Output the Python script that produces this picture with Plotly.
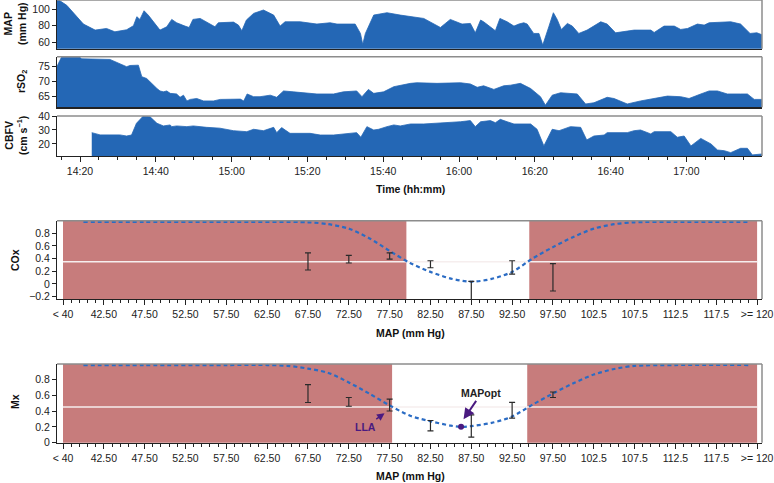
import plotly.graph_objects as go
import pandas as pd

# ---------------- time-series data (minutes after 14:00) ----------------
map_t = [13.9, 16.5, 20.9, 24.0, 27.0, 29.2, 32.3, 34.1, 35.0, 35.8, 36.9, 38.0, 41.1, 42.9, 44.2, 45.5,
         47.7, 48.8, 49.8, 51.7, 55.6, 56.5, 60.5, 61.8, 62.7, 63.9, 65.8, 68.4, 71.1, 72.8, 74.1, 78.1,
         82.5, 86.0, 87.8, 92.6, 94.0, 94.6, 95.3, 97.5, 101.0, 104.5, 110.7, 115.1, 117.7, 120.8, 123.0,
         124.3, 125.7, 126.5, 129.6, 130.8, 132.7, 134.5, 135.8, 137.1, 138.0, 139.7, 141.1, 142.1, 143.7,
         144.9, 145.9, 147.0, 148.6, 149.9, 151.6, 153.8, 157.4, 159.1, 161.3, 166.2, 170.6, 171.5, 174.1,
         176.8, 178.5, 180.3, 182.9, 184.7, 186.0, 191.7, 194.3, 196.8, 198.6, 200.2]
map_v = [113, 105, 82, 74.6, 76.6, 72.5, 75, 80, 91, 87.7, 98.3, 93, 74.6, 78.7, 87.7, 83.6,
         79.5, 77.8, 87.7, 88.9, 78.7, 83.6, 84.4, 80.7, 73.8, 86.9, 95.1, 99.2, 93.0, 79.5, 84.8, 84.8,
         82.0, 83.6, 82.0, 82.0, 70.5, 57.0, 70.5, 93.0, 95.9, 93.0, 88.9, 77.8, 87.7, 82.0, 82.8,
         71.3, 86.9, 84.8, 73.8, 88.9, 84.8, 79.5, 82.0, 83.6, 82.0, 70.5, 70.5, 56.2, 78.7,
         95.9, 87.7, 75.4, 82.8, 79.5, 70.5, 74.6, 84.8, 82.0, 71.3, 74.6, 74.6, 71.7, 79.5,
         79.5, 75.4, 76.6, 82.0, 80.7, 83.6, 84.8, 82.0, 70.5, 71.3, 68.4]

rso2_t = [13.9, 15.1, 20.0, 20.4, 27.9, 30.1, 32.3, 33.2, 35.4, 36.3, 37.6, 40.3, 41.1, 42.0, 42.9, 43.8,
          45.5, 46.4, 47.3, 48.2, 49.1, 50.8, 52.6, 55.2, 57.0, 62.3, 63.2, 64.1, 65.8, 67.5, 70.2, 71.9,
          73.7, 76.3, 80.3, 82.5, 86.9, 89.5, 93.0, 94.4, 96.1, 97.5, 100.1, 102.8, 107.2, 108.9, 114.2,
          120.4, 123.0, 124.8, 126.5, 129.2, 131.8, 133.6, 136.2, 138.9, 141.5, 142.8, 144.6, 146.8, 151.2,
          153.4, 155.6, 159.1, 160.9, 164.4, 167.9, 171.5, 175.0, 178.5, 180.7, 183.8, 186.0, 188.2, 190.8,
          194.3, 196.1, 197.9, 200.2]
rso2_v = [74.8, 77.9, 77.9, 77.4, 77.2, 75.9, 74.8, 75.2, 75.3, 71.5, 70.9, 67.6, 66.8, 66.5, 66.8, 66.0,
          65.8, 64.7, 65.4, 63.5, 64.0, 64.3, 63.5, 63.5, 64.0, 64.1, 63.5, 65.8, 64.9, 64.9, 65.4, 64.7,
          66.8, 66.5, 66.2, 65.8, 65.8, 66.5, 66.8, 64.9, 67.3, 66.0, 66.5, 68.2, 69.3, 69.5, 69.3,
          69.5, 69.1, 68.0, 68.5, 67.3, 68.5, 68.7, 69.3, 67.6, 64.9, 62.1, 65.4, 66.2, 65.8,
          62.5, 62.9, 64.7, 64.3, 62.5, 63.5, 64.3, 65.1, 64.9, 64.3, 65.8, 66.8, 66.8, 65.8,
          65.8, 65.8, 64.0, 64.0]

cbfv_t = [23.1, 25.3, 27.9, 30.5, 32.3, 33.6, 34.9, 36.7, 38.5, 40.3, 42.0, 43.8, 44.2, 45.5, 48.2, 49.9,
          53.4, 56.9, 60.5, 64.0, 65.8, 67.5, 68.4, 71.1, 71.9, 73.2, 75.4, 80.7, 83.4, 86.9, 91.3, 93.0,
          94.1, 95.7, 97.5, 98.8, 101.0, 102.8, 104.5, 107.2, 110.7, 114.2, 117.7, 120.4, 123.0, 124.3,
          125.7, 128.3, 129.6, 130.9, 132.7, 134.5, 138.9, 140.6, 142.4, 144.6, 146.4, 149.4, 152.1, 153.7,
          155.6, 158.3, 159.1, 164.4, 166.2, 167.9, 170.6, 171.5, 175.9, 177.6, 179.4, 181.2, 183.8, 186.5,
          188.2, 190.0, 191.7, 194.3, 196.1, 197.4, 200.2]
cbfv_v = [28.1, 26.5, 26.5, 26.5, 25.7, 26.4, 34.8, 40.0, 39.4, 34.8, 32.9, 33.6, 32.4, 32.9, 32.4, 32.9,
          31.9, 31.3, 29.5, 28.8, 30.5, 29.8, 29.5, 31.9, 28.1, 31.7, 27.6, 27.6, 26.4, 26.4, 27.6, 28.1,
          24.8, 32.4, 30.0, 30.5, 32.4, 33.6, 32.9, 34.3, 34.3, 34.8, 35.2, 35.9, 36.7, 32.4,
          35.9, 36.7, 35.2, 37.6, 35.9, 34.3, 34.3, 30.5, 18.6, 30.5, 29.5, 32.4, 31.9, 22.9,
          25.7, 26.4, 28.1, 28.1, 29.5, 30.0, 27.2, 28.8, 28.8, 24.8, 25.7, 18.6, 24.0, 20.0,
          15.7, 15.2, 13.8, 16.9, 16.9, 12.2, 12.9]

# ---------------- binned index data ----------------
map_bins = ["< 40", "42.50", "47.50", "52.50", "57.50", "62.50", "67.50", "72.50", "77.50",
            "82.50", "87.50", "92.50", "97.50", "102.5", "107.5", "112.5", "117.5", ">= 120"]
cox_mean = [None, None, None, None, None, None, 0.355, 0.39, 0.44, 0.31, -0.15, 0.26, 0.105,
            None, None, None, None, None]
cox_err = [None, None, None, None, None, None, 0.135, 0.06, 0.05, 0.055, 0.19, 0.105, 0.215,
           None, None, None, None, None]
mx_mean = [None, None, None, None, None, None, 0.62, 0.515, 0.475, 0.215, 0.21, 0.41, 0.605,
           None, None, None, None, None]
mx_err = [None, None, None, None, None, None, 0.113, 0.055, 0.075, 0.065, 0.14, 0.10, 0.035,
          None, None, None, None, None]

# fitted curves (bin-index position, value)
cox_fit_x = [0.5, 2, 4, 6, 6.5, 7, 7.5, 8, 8.5, 9, 9.5, 10, 10.5, 11, 11.5, 12, 12.5, 13, 13.5, 14, 15, 16.8]
cox_fit_y = [0.975, 0.975, 0.975, 0.97, 0.94, 0.87, 0.72, 0.52, 0.33, 0.19, 0.085, 0.035, 0.08, 0.19,
             0.40, 0.58, 0.74, 0.87, 0.94, 0.97, 0.975, 0.975]
mx_fit_x = [0.5, 2, 4, 5, 5.5, 6, 6.5, 7, 7.5, 8, 8.5, 9, 9.5, 9.75, 10, 10.5, 11, 11.5, 12, 12.5, 13,
            13.5, 14, 15, 16.8]
mx_fit_y = [0.98, 0.98, 0.98, 0.98, 0.97, 0.935, 0.88, 0.76, 0.62, 0.47, 0.34, 0.27, 0.215, 0.20, 0.21,
            0.25, 0.33, 0.48, 0.62, 0.75, 0.86, 0.93, 0.97, 0.98, 0.98]

cox_thr = 0.35
mx_thr = 0.45
cox_limits = [8.41, 11.42]   # lower / upper crossing (bin index)
mx_limits = [8.06, 11.37]
mapopt = [9.75, 0.20]

# ---------------- build figure ----------------
BLUE = "#2467B5"
SHADE = "#C77C7C"
PURPLE = "#4A1A80"
DASH = "#2B6CC4"
FONT = "Liberation Sans, Arial, sans-serif"

base = pd.Timestamp("2000-01-01 14:00")


def tt(mins):
    return [base + pd.Timedelta(minutes=m) for m in mins]


fig = go.Figure()
for xs, ys, ax, ay in [(map_t, map_v, "x", "y"), (rso2_t, rso2_v, "x2", "y2"), (cbfv_t, cbfv_v, "x3", "y3")]:
    fig.add_trace(go.Scatter(x=tt(xs), y=ys, mode="lines", fill="tozeroy", fillcolor=BLUE,
                             line=dict(color=BLUE, width=0.8), xaxis=ax, yaxis=ay, hoverinfo="skip"))

idx = list(range(len(map_bins)))
for fx, fy, mean, err, ax, ay in [(cox_fit_x, cox_fit_y, cox_mean, cox_err, "x4", "y4"),
                                  (mx_fit_x, mx_fit_y, mx_mean, mx_err, "x5", "y5")]:
    fig.add_trace(go.Scatter(x=fx, y=fy, mode="lines", line=dict(color=DASH, width=2.2, dash="4px,3px",
                                                                   shape="spline", smoothing=0.8),
                             xaxis=ax, yaxis=ay, hoverinfo="skip"))
    fig.add_trace(go.Scatter(x=idx, y=mean, mode="markers", marker=dict(size=1, opacity=0),
                             error_y=dict(type="data", array=err, color="#2a2a2a", thickness=1.2, width=3),
                             xaxis=ax, yaxis=ay, hoverinfo="skip"))

fig.add_trace(go.Scatter(x=[mapopt[0]], y=[mapopt[1]], mode="markers",
                         marker=dict(color=PURPLE, size=6, symbol="circle"), xaxis="x5", yaxis="y5",
                         hoverinfo="skip"))

XD = [57 / 774, 762 / 774]
W, H = 774, 483


def ydom(top, bot):
    return [1 - bot / H, 1 - top / H]


tick_font = dict(family=FONT, size=10.5, color="#222")
common_y = dict(showgrid=False, zeroline=False, showline=True, linecolor="#222", linewidth=1,
                ticks="outside", ticklen=4, tickcolor="#222", tickfont=tick_font, automargin=False)
date_x = dict(type="date", range=[base + pd.Timedelta(minutes=13.93), base + pd.Timedelta(minutes=199.95)],
              showgrid=False, zeroline=False, showline=True, linecolor="#222", linewidth=1.2, domain=XD,
              automargin=False)

layout = dict(
    width=W, height=H, margin=dict(l=0, r=0, t=0, b=0, autoexpand=False),
    paper_bgcolor="white", plot_bgcolor="white", hovermode=False,
    showlegend=False, font=dict(family=FONT, color="#222"),
    xaxis=dict(**date_x, anchor="y", showticklabels=False, ticks=""),
    xaxis2=dict(**date_x, anchor="y2", showticklabels=False, ticks=""),
    xaxis3=dict(**date_x, anchor="y3", ticks="outside", ticklen=5, tickcolor="#222",
                dtick=20 * 60 * 1000, tick0=base, tickformat="%H:%M", tickfont=tick_font,
                minor=dict(dtick=5 * 60 * 1000, ticks="outside", ticklen=3, tickcolor="#222")),
    yaxis=dict(**common_y, anchor="x", domain=ydom(0, 48.7), range=[51.8, 111.5], tickvals=[60, 80, 100]),
    yaxis2=dict(**common_y, anchor="x2", domain=ydom(56.7, 107.3), range=[61.4, 78.1], tickvals=[65, 70, 75]),
    yaxis3=dict(**common_y, anchor="x3", domain=ydom(116, 156), range=[11.4, 40], tickvals=[20, 30, 40]),
)

cat_x = dict(range=[-0.147, 17.12], tickmode="array", tickvals=idx, ticktext=map_bins, showgrid=False,
             zeroline=False, showline=True, linecolor="#222", linewidth=1.2, ticks="outside", ticklen=5,
             tickcolor="#222", tickfont=tick_font, domain=XD, automargin=False,
             minor=dict(tickmode="linear", tick0=0, dtick=0.2, ticks="outside", ticklen=3, tickcolor="#222"))
layout["xaxis4"] = dict(**cat_x, anchor="y4")
layout["xaxis5"] = dict(**cat_x, anchor="y5")
layout["yaxis4"] = dict(**common_y, anchor="x4", domain=ydom(220.7, 299), range=[-0.236, 0.995],
                        tickvals=[-0.2, 0, 0.2, 0.4, 0.6, 0.8])
layout["yaxis5"] = dict(**common_y, anchor="x5", domain=ydom(364, 442.7), range=[0, 0.993],
                        tickvals=[0, 0.2, 0.4, 0.6, 0.8])
fig.update_layout(**layout)

shapes = []
for ax, ay, lim, thr in [("x4", "y4", cox_limits, cox_thr), ("x5", "y5", mx_limits, mx_thr)]:
    shapes.append(dict(type="rect", xref=ax, yref=ay + " domain", x0=0, x1=lim[0], y0=0, y1=1,
                       fillcolor=SHADE, line=dict(width=0), layer="below"))
    shapes.append(dict(type="rect", xref=ax, yref=ay + " domain", x0=lim[1], x1=len(map_bins) - 1, y0=0, y1=1,
                       fillcolor=SHADE, line=dict(width=0), layer="below"))
    shapes.append(dict(type="line", xref=ax, yref=ay, x0=0, x1=len(map_bins) - 1, y0=thr, y1=thr,
                       line=dict(color="#f6eeee", width=1.5), layer="below"))
for ax, ay in [("x", "y"), ("x2", "y2"), ("x3", "y3"), ("x4", "y4"), ("x5", "y5")]:
    shapes.append(dict(type="line", xref=ax + " domain", yref=ay + " domain", x0=0, x1=1, y0=1, y1=1,
                       line=dict(color="#8c8c8c", width=1.5)))
    shapes.append(dict(type="line", xref=ax + " domain", yref=ay + " domain", x0=1, x1=1, y0=0, y1=1,
                       line=dict(color="#8c8c8c", width=1.5)))
fig.update_layout(shapes=shapes)

ann = []
title_font = dict(family=FONT, size=10.5, color="#111")


def px(x, y):
    return x / W, 1 - y / H


for text, (x, y) in [("<b>MAP</b><br><b>(mm Hg)</b>", (15, 24)), ("<b>rSO<sub>2</sub></b>", (22, 82)),
                     ("<b>CBFV</b><br><b>(cm s<sup>−1</sup>)</b>", (16, 136)), ("<b>COx</b>", (15, 260)),
                     ("<b>Mx</b>", (15, 402))]:
    xx, yy = px(x, y)
    ann.append(dict(text=text, x=xx, y=yy, xref="paper", yref="paper", showarrow=False, textangle=-90,
                    xanchor="center", yanchor="middle", font=title_font))
for text, (x, y) in [("<b>Time (hh:mm)</b>", (410, 189)), ("<b>MAP (mm Hg)</b>", (410, 333)),
                     ("<b>MAP (mm Hg)</b>", (410, 476))]:
    xx, yy = px(x, y)
    ann.append(dict(text=text, x=xx, y=yy, xref="paper", yref="paper", showarrow=False,
                    xanchor="center", yanchor="middle", font=title_font))

# annotated points: text placed at (ax, ay), arrow tip at (x, y)
ann.append(dict(text="<b>MAPopt</b>", x=9.81, y=0.295, ax=10.245, ay=0.623, xref="x5", yref="y5",
                axref="x5", ayref="y5", showarrow=True, arrowhead=2, arrowsize=1.1, arrowwidth=2,
                arrowcolor=PURPLE, font=dict(family=FONT, size=10.5, color="#222")))
ann.append(dict(text="<b>LLA</b>", x=7.875, y=0.371, ax=7.414, ay=0.202, xref="x5", yref="y5",
                axref="x5", ayref="y5", showarrow=True, arrowhead=2, arrowsize=1.0, arrowwidth=1.5,
                arrowcolor=PURPLE, font=dict(family=FONT, size=10.5, color=PURPLE)))
fig.update_layout(annotations=ann)

fig.write_html("out.html", config={"displayModeBar": False, "staticPlot": True},
               post_script="document.body.style.margin='0';")
